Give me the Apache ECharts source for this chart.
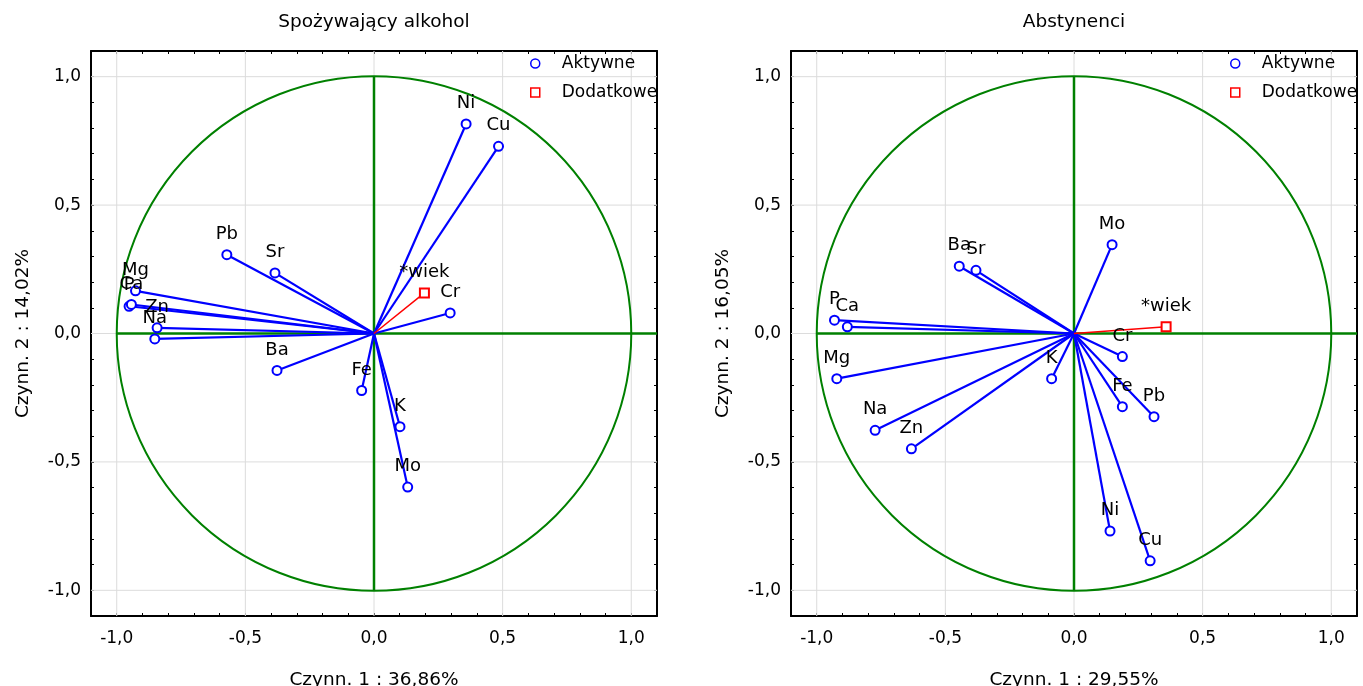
<!DOCTYPE html>
<html><head><meta charset="utf-8">
<script src="https://cdn.jsdelivr.net/npm/echarts@6/dist/echarts.min.js"></script>
<style>html,body{margin:0;padding:0;background:#fff}#c{width:1363px;height:686px}</style>
</head><body><div id="c"></div>
<script>
// ---------- data ----------
const titles = ['Spożywający alkohol', 'Abstynenci'];
const xNames = ['Czynn. 1 : 36,86%', 'Czynn. 1 : 29,55%'];
const yNames = ['Czynn. 2 : 14,02%', 'Czynn. 2 : 16,05%'];
const tickValues = [-1, -0.5, 0, 0.5, 1];
const tickLabels = ['-1,0', '-0,5', '0,0', '0,5', '1,0'];
const legendNames = ['Aktywne', 'Dodatkowe'];

// Panel 1: Spożywający alkohol
const namesA = ['Ni', 'Cu', 'Cr', 'Fe', 'K', 'Mo', 'Pb', 'Sr', 'Mg', 'P', 'Ca', 'Zn', 'Na', 'Ba'];
const xA = [0.358, 0.484, 0.296, -0.048, 0.101, 0.131, -0.572, -0.385, -0.927, -0.952, -0.943, -0.843, -0.852, -0.377];
const yA = [0.816, 0.729, 0.080, -0.222, -0.363, -0.598, 0.307, 0.236, 0.166, 0.106, 0.113, 0.022, -0.021, -0.144];
const suppNameA = '*wiek';
const suppA = [0.196, 0.158];

// Panel 2: Abstynenci
const namesB = ['Mo', 'Ba', 'Sr', 'P', 'Ca', 'Mg', 'Na', 'Zn', 'K', 'Cr', 'Fe', 'Pb', 'Ni', 'Cu'];
const xB = [0.148, -0.446, -0.381, -0.931, -0.881, -0.922, -0.773, -0.632, -0.087, 0.188, 0.188, 0.311, 0.140, 0.296];
const yB = [0.346, 0.262, 0.246, 0.052, 0.026, -0.176, -0.377, -0.449, -0.176, -0.090, -0.285, -0.324, -0.769, -0.885];
const suppNameB = '*wiek';
const suppB = [0.358, 0.026];

// reference lines (unit circle radius, axes through origin)
const circleRadius = 1;
const hLine = [[-1, 0], [1.1, 0]];
const vLine = [[0, -1], [0, 1]];

// ---------- chart ----------
const FONT = 'DejaVu Sans, Liberation Sans, Arial, sans-serif';
const BLUE = '#0000ff', RED = '#ff0000', GREEN = '#008000';
const gridLefts = [91, 791];
const panels = [
  {names: namesA, xs: xA, ys: yA, supp: suppA, suppName: suppNameA},
  {names: namesB, xs: xB, ys: yB, supp: suppB, suppName: suppNameB}
];

function fmt(v) {
  const i = tickValues.findIndex(t => Math.abs(t - v) < 1e-6);
  return i >= 0 ? tickLabels[i] : '';
}
const tickCommon = {show: true, inside: true, length: 3, lineStyle: {color: '#000', width: 1}};
const lineCommon = {show: true, onZero: false, lineStyle: {color: '#000', width: 2}};

const grid = [], xAxis = [], yAxis = [], series = [], title = [], legend = [];
panels.forEach((p, gi) => {
  grid.push({left: gridLefts[gi], top: 51, width: 566, height: 565, containLabel: false, outerBoundsMode: 'none'});
  title.push({text: titles[gi], left: gridLefts[gi] + 283 - 5, top: 8, textAlign: 'center',
    textStyle: {fontFamily: FONT, fontSize: 18.5, fontWeight: 'normal', color: '#000'}});
  const base = {type: 'value', gridIndex: gi, min: -1.1, max: 1.1, interval: 0.1,
    axisLine: lineCommon, axisTick: tickCommon, splitLine: {show: false}};
  xAxis.push(Object.assign({}, base, {position: 'bottom',
    axisLabel: {show: true, formatter: fmt, margin: 14, color: '#000', fontSize: 17, fontFamily: FONT},
    name: xNames[gi], nameLocation: 'middle', nameGap: 55,
    nameTextStyle: {fontFamily: FONT, fontSize: 18.5, color: '#000'}}));
  xAxis.push(Object.assign({}, base, {position: 'top', axisLabel: {show: false}}));
  yAxis.push(Object.assign({}, base, {position: 'left',
    axisLabel: {show: true, formatter: fmt, margin: 10, color: '#000', fontSize: 17, fontFamily: FONT},
    name: yNames[gi], nameLocation: 'middle', nameGap: 58,
    nameTextStyle: {fontFamily: FONT, fontSize: 18.5, color: '#000'}}));
  yAxis.push(Object.assign({}, base, {position: 'right', axisLabel: {show: false}}));
  const xi = gi * 2, yi = gi * 2;

  // gray grid lines
  series.push({type: 'custom', xAxisIndex: xi, yAxisIndex: yi, silent: true, z: 1,
    data: tickValues.map(v => [v, v]),
    renderItem: (params, api) => {
      const v = api.value(0);
      const a = api.coord([v, -1.1]), b = api.coord([v, 1.1]);
      const c = api.coord([-1.1, v]), d = api.coord([1.1, v]);
      const st = {stroke: '#dcdcdc', lineWidth: 1};
      return {type: 'group', children: [
        {type: 'line', shape: {x1: a[0], y1: a[1], x2: b[0], y2: b[1]}, style: st},
        {type: 'line', shape: {x1: c[0], y1: c[1], x2: d[0], y2: d[1]}, style: st}]};
    }});
  // unit circle
  series.push({type: 'custom', xAxisIndex: xi, yAxisIndex: yi, silent: true, z: 2,
    data: [[0, 0, circleRadius]],
    renderItem: (params, api) => {
      const c = api.coord([api.value(0), api.value(1)]);
      const r = api.size([api.value(2), 0])[0];
      return {type: 'circle', shape: {cx: c[0], cy: c[1], r: r},
        style: {fill: 'none', stroke: GREEN, lineWidth: 2}};
    }});
  // green axes lines
  [hLine, vLine].forEach(l => series.push({type: 'line', xAxisIndex: xi, yAxisIndex: yi, silent: true, z: 2,
    data: l, symbol: 'none', lineStyle: {color: GREEN, width: 2.5}, animation: false}));
  // vectors (active)
  const pts = p.xs.map((x, i) => [x, p.ys[i]]);
  series.push({type: 'custom', xAxisIndex: xi, yAxisIndex: yi, silent: true, z: 3,
    data: pts,
    renderItem: (params, api) => {
      const o = api.coord([0, 0]), e = api.coord([api.value(0), api.value(1)]);
      return {type: 'line', shape: {x1: o[0], y1: o[1], x2: e[0], y2: e[1]},
        style: {stroke: BLUE, lineWidth: 2.2}};
    }});
  // vector (supplementary)
  series.push({type: 'custom', xAxisIndex: xi, yAxisIndex: yi, silent: true, z: 3,
    data: [p.supp],
    renderItem: (params, api) => {
      const o = api.coord([0, 0]), e = api.coord([api.value(0), api.value(1)]);
      return {type: 'line', shape: {x1: o[0], y1: o[1], x2: e[0], y2: e[1]},
        style: {stroke: RED, lineWidth: 1.5}};
    }});
  const lab = {show: true, position: 'top', distance: 6, formatter: '{b}', color: '#000', fontSize: 18, fontFamily: FONT, opacity: 1};
  series.push({type: 'scatter', name: legendNames[0], xAxisIndex: xi, yAxisIndex: yi, z: 4,
    symbol: 'emptyCircle', symbolSize: 9, itemStyle: {color: BLUE, borderWidth: 1.8, opacity: 1},
    label: lab, emphasis: {disabled: true},
    data: pts.map((v, i) => ({value: v, name: p.names[i]}))});
  series.push({type: 'scatter', name: legendNames[1], xAxisIndex: xi, yAxisIndex: yi, z: 4,
    symbol: 'emptyRect', symbolSize: 9, itemStyle: {color: RED, borderWidth: 1.5, opacity: 1},
    label: lab, emphasis: {disabled: true},
    data: [{value: p.supp, name: p.suppName}]});

  legend.push({left: gridLefts[gi] + 439, top: 55, orient: 'vertical', itemWidth: 9, itemHeight: 9, itemGap: 12,
    selectedMode: false, padding: 0,
    data: [
      {name: legendNames[0], icon: 'circle', itemStyle: {color: 'rgba(0,0,0,0)', borderColor: BLUE, borderWidth: 1.5}},
      {name: legendNames[1], icon: 'rect', itemStyle: {color: 'rgba(0,0,0,0)', borderColor: RED, borderWidth: 1.5}}],
    formatter: n => '{t|' + n + '}',
    textStyle: {rich: {t: {padding: [0, 0, 0, 17], fontSize: 17, fontFamily: FONT, color: '#000'}}}});
});

const chart = echarts.init(document.getElementById('c'), null, {renderer: 'canvas'});
chart.setOption({animation: false, backgroundColor: '#fff', title, legend, grid, xAxis, yAxis, series});
</script></body></html>
